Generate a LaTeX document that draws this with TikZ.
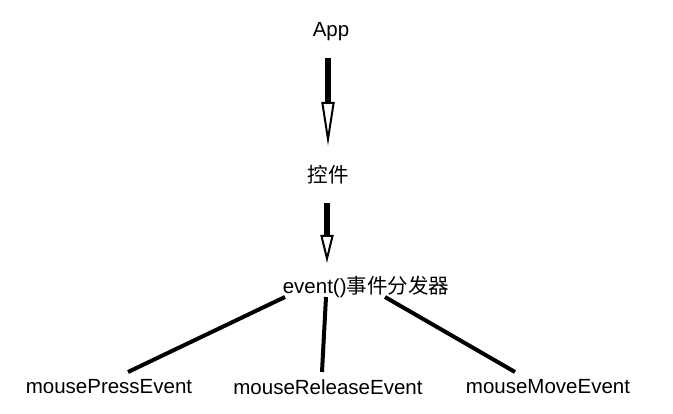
\documentclass[tikz,border=0pt]{standalone}
\usepackage{fontspec}
\setmainfont{Liberation Sans}
\newfontfamily\cjk{Noto Sans CJK SC}
\usetikzlibrary{arrows.meta}
\begin{document}
\begin{tikzpicture}[x=1pt,y=-1pt,
  lbl/.style={font=\fontsize{20.5}{24}\selectfont,inner sep=1pt},
  flow/.style={line width=6pt,-{Triangle[open,length=44pt,width=13pt,line width=2pt]}},
  branch/.style={line width=4pt}]
\useasboundingbox (0,0) rectangle (673,414);
\node[lbl] (app) at (331,32) {App};
\node[lbl] (ctrl) at (328,175) {\cjk 控件};
\node[lbl] (ev) at (366,287) {event()\cjk 事件分发器};
\node[lbl] (press) at (109,387) {mousePressEvent};
\node[lbl] (release) at (328,387) {mouseReleaseEvent};
\node[lbl] (move) at (548,387) {mouseMoveEvent};
\coordinate (a1) at (328,58);
\coordinate (a2) at (328,146);
\coordinate (b1) at (327,203);
\coordinate (b2) at (327,263);
\draw[flow] (a1) -- (a2);
\draw[flow,-{Triangle[open,length=28pt,width=13pt,line width=2pt]}] (b1) -- (b2);
\coordinate (p1) at (285,297);
\coordinate (p2) at (326,297);
\coordinate (p3) at (385,297);
\draw[branch] (p1) -- (128,372) coordinate (q1);
\draw[branch] (p2) -- (322,372) coordinate (q2);
\draw[branch] (p3) -- (515,372) coordinate (q3);
\end{tikzpicture}
\end{document}
